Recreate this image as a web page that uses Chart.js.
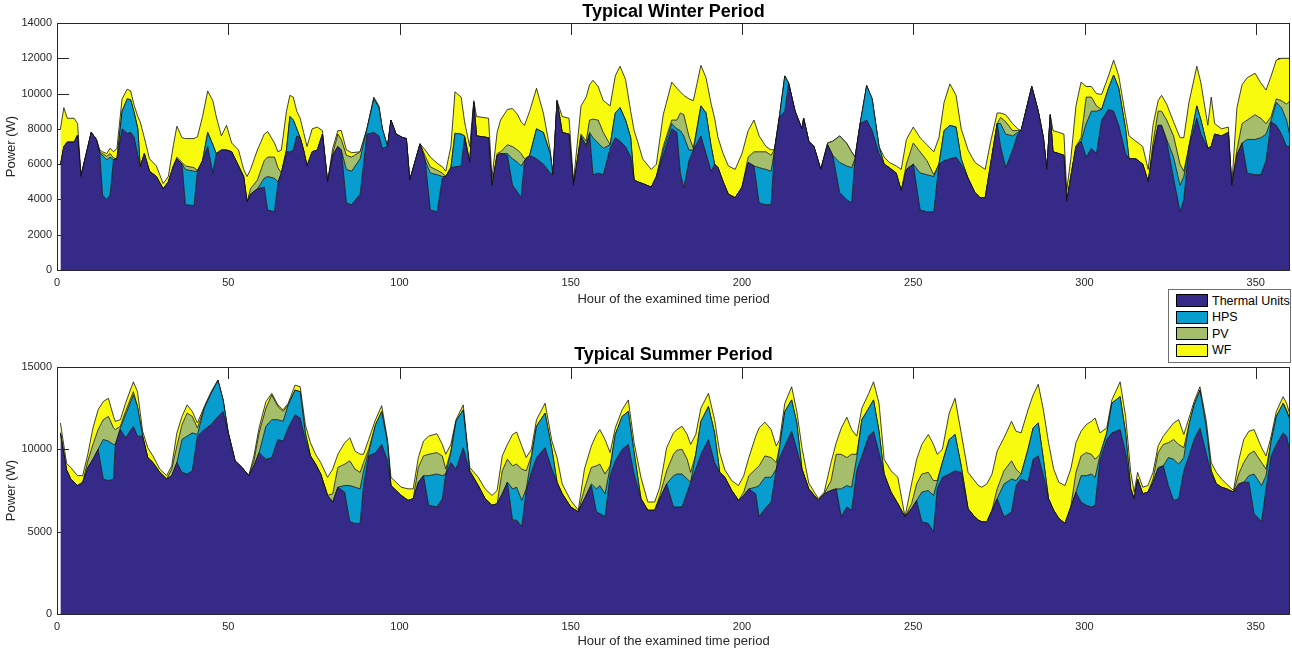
<!DOCTYPE html>
<html>
<head>
<meta charset="utf-8">
<script src="https://cdn.jsdelivr.net/npm/chart.js@4.4.1/dist/chart.umd.min.js"></script>
<style>
  body { margin: 0; background: #fff; width: 1292px; height: 652px; position: relative; overflow: hidden;
         font-family: "Liberation Sans", Arial, Helvetica, sans-serif; }
  canvas { position: absolute; left: 0; }
  #winter { top: 0; }
  #summer { top: 340px; }
  .legend { position: absolute; left: 1168px; top: 289px; width: 123px; height: 74px; box-sizing: border-box;
            border: 1px solid #6e6e6e; background: #fff; z-index: 5; }
  .legend .item { position: absolute; left: 7px; height: 13px; display: flex; align-items: center;
                  font-size: 12.5px; color: #000; white-space: nowrap; }
  .legend .sw { width: 30px; height: 11px; border: 1px solid #000; margin-right: 4px; }
</style>
</head>
<body>
<canvas id="winter" width="1292" height="310"></canvas>
<canvas id="summer" width="1292" height="312"></canvas>
<div class="legend" id="legend"></div>

<script>
// Generation mix per hour (W), typical winter period
const winterHours = [
  1,2,3,5,6,7,10,11.5,12.5,13.3,
  14.5,15.5,16.5,17.5,19,20.5,21.5,22.5,23.6,24.3,
  25.5,27,29,31,32.5,34,35,36.5,37.5,40,
  41,42.5,44,45.5,46.5,48,49.5,51,53,54.5,
  55.5,56.5,58.5,60.5,61.5,63.5,64.5,65.5,67,68,
  69,70,71,72,73,74.5,76,77.5,79,80.5,
  82,83,84.5,86,88.5,90.5,92.5,94,95,96.5,
  97.5,99,101,102,103,106,107.5,109,111,112.5,
  113.5,115,116.2,118,119,120.5,121.7,122.5,126,127,
  128.5,129.5,131.5,133,134.5,135.5,136.5,138,140,142,
  144,144.8,146,147.5,149.5,150.8,153,154.5,155.5,156.5,
  158,159.5,161.5,163,164.4,166,167.5,168.5,169.5,171,
  173.5,175,177,179.5,181,182,183,184.5,185.8,188,
  189.5,191,192,193,194.5,196,198,200,201.8,203.5,
  205,207,208.5,209.5,211,212.5,213.6,215.5,217.5,218,
  219.5,221,223,225,226.5,228.5,230.5,232,233,234.5,
  236.4,238,240,241.5,243,245,246.5,248,250,252,
  254,256,257.5,259,260.7,262.5,264,266,268,269.5,
  271,272.5,274.5,275.5,277,279,280.5,281.5,284.6,286.5,
  288,289,290,290.8,292.5,294,294.8,296,297.5,299,
  300.5,302,303.5,305,307,308.5,310,312,313,315,
  317,318.6,320,321.5,322.5,324,326,327.9,329,330.5,
  332.8,334,336,337,338,340,342,343,344.5,346,
  347.5,349.8,351.5,353,354.5,356,357.5,359,360
];
const winterThermal = [
  5950,7000,7250,7250,7650,5300,7800,7400,6600,4250,
  4000,4250,6250,6300,8000,7750,7800,7550,6500,5850,
  6600,5600,5300,4600,5000,5900,6300,6000,3700,3650,
  5600,6200,7000,5500,6600,6800,6800,6700,5900,5300,
  3850,4300,4600,4700,3400,3300,4900,5500,6700,6700,
  6800,7600,7500,6800,5900,6700,6800,7700,5000,6500,
  7000,6800,3800,3700,4300,7700,7800,7600,6900,7000,
  8500,7700,7500,7450,5100,7150,6200,3400,3300,5200,
  5300,5800,5850,5900,7500,6100,9500,7600,7500,4800,
  6500,6600,6500,4800,4400,4100,6200,6500,6300,6000,
  5500,5400,9600,7800,7700,4800,7500,7000,7700,5400,
  5500,5400,6900,7500,7300,7000,6400,5100,5000,4900,
  4700,5300,6500,8000,7800,5500,4650,6200,6800,7600,
  6600,5600,6000,5800,5000,4300,4100,4700,6100,5900,
  3800,3700,3700,6800,8700,9000,10600,9000,8000,8600,
  7300,7000,5700,7100,6500,4400,4000,3800,6300,8300,
  8500,7900,6600,6000,5800,5500,4500,5700,6000,3400,
  3300,3300,6000,6200,6300,6400,6000,5200,4400,4100,
  4100,5900,8300,7000,5800,6800,7700,7900,10400,9000,
  7500,5700,8800,6700,6600,6500,3900,5300,7000,7300,
  6400,6900,6600,8500,9100,9000,8200,6600,6300,6300,
  6000,5000,6800,8200,8200,7300,5200,3300,4000,7000,
  8600,7700,6900,7000,7700,7600,7800,4800,6500,7200,
  5500,5400,5400,6200,8400,8200,7700,7000,7000
];
const winterHps = [
  0,0,0,0,0,0,0,0,0,2250,
  2250,2150,0,0,1000,1950,1850,1400,1500,0,
  0,0,0,0,0,0,0,0,2000,1950,
  0,0,800,1600,0,0,0,0,0,0,
  0,0,0,500,1900,1900,100,0,100,2000,
  1700,400,0,0,0,0,0,0,0,0,
  0,0,1900,1900,2000,300,1900,1600,1100,0,
  0,0,0,0,0,0,0,2100,2100,100,
  0,0,1900,1800,100,0,0,0,0,0,
  0,0,100,1500,1700,1800,0,0,1700,1800,
  1100,0,0,0,0,0,100,100,100,2100,
  1700,1500,200,1400,1900,1500,1100,0,0,0,
  0,0,300,300,200,2400,2950,600,0,1700,
  2300,1400,0,0,0,0,0,0,0,0,
  2000,2000,1900,0,100,2000,0,0,0,0,
  0,0,0,0,0,1700,1900,2000,0,0,
  1950,1800,400,0,0,0,0,0,0,2100,
  2100,2000,0,1700,1900,1700,300,0,0,0,
  0,0,0,1300,1900,800,100,0,0,0,
  0,0,0,0,0,0,0,0,0,0,
  1900,2100,2400,600,1200,2050,2100,1400,0,0,
  0,0,0,0,0,100,1200,1500,1300,0,
  700,800,0,0,0,0,0,0,0,0,
  1900,2000,2100,1500,100,1300,1500,1500,600
];
const winterPv = [
  0,0,0,0,0,0,0,0,100,100,
  200,200,100,0,0,0,0,0,0,0,
  0,0,0,0,0,0,100,100,200,200,
  50,0,0,0,0,0,0,0,0,0,
  0,300,500,1000,1100,1200,800,0,0,0,
  0,0,0,0,0,0,0,0,0,100,
  700,600,800,800,400,0,0,0,0,0,
  0,0,0,0,0,0,250,350,250,200,
  0,0,0,0,0,0,0,0,0,0,
  100,100,500,700,700,700,100,0,0,0,
  0,0,0,0,0,0,100,200,700,1050,
  1300,900,0,0,0,0,0,0,0,0,
  0,0,200,200,500,1000,1200,800,100,0,
  0,0,0,0,0,0,0,0,300,800,
  900,1000,900,50,0,0,0,0,0,0,
  0,0,0,100,800,1500,1300,900,100,0,
  0,0,0,0,0,0,0,300,1200,1200,
  800,100,0,0,0,0,0,0,0,0,
  0,0,0,350,700,300,100,0,0,0,
  0,0,0,0,0,0,0,0,0,200,
  1500,800,300,0,0,0,0,0,0,0,
  0,0,400,800,800,1100,1200,1200,300,0,
  0,0,0,0,0,0,0,0,300,1100,
  1100,1400,1100,600,200,200,400,900,2000
];
const winterWf = [
  2050,2200,1350,1350,650,100,0,0,100,100,
  150,300,350,600,700,550,500,400,700,2550,
  900,700,600,300,300,1200,1750,1400,1550,1650,
  1900,2500,2350,2500,2100,800,1400,500,900,400,
  1450,1100,1700,1500,1450,800,900,1300,2200,1200,
  1300,1000,1100,1000,1100,1300,1300,200,0,300,
  200,500,300,250,0,0,100,100,0,0,
  0,0,0,0,0,0,350,550,400,350,
  300,1200,2350,2100,800,900,100,1100,1100,400,
  1200,1800,2000,2150,2000,1800,1900,2500,2300,1100,
  200,0,0,900,900,200,1600,2500,2000,2200,
  1900,1800,2200,2100,2350,2300,1500,2800,2300,1400,
  1000,700,1800,2150,1800,1200,1100,2100,2700,2300,
  2000,2400,2600,1700,1600,1600,1600,1900,1500,1800,
  900,300,300,0,0,0,0,0,0,0,
  0,0,0,0,0,0,0,0,0,0,
  0,0,0,400,300,400,1200,1400,900,800,
  900,1300,1500,1600,2350,1800,1700,1600,1700,1800,
  1600,1300,600,250,400,400,100,0,0,0,
  0,0,0,1200,1200,1200,600,1000,2300,3150,
  600,600,700,850,700,850,700,700,1300,1000,
  1000,700,1000,600,900,900,800,1500,1900,2500,
  2250,2100,1300,2800,600,400,300,0,2400,2200,
  2400,2350,2000,1900,2300,2200,2400,2600,2400
];

// Generation mix per hour (W), typical summer period
const summerHours = [
  1,2.8,4,6,7.5,9,10.5,12,13.5,15,
  16.5,17,18.5,20,22.3,23.5,25,26.5,28,30,
  32,33.5,35,36.5,38,39.5,41,43,45,47,
  48.5,50,52,54,56,57.5,59,61,62.7,64.5,
  66,67.5,69.5,71,72.5,74,75.5,77,79,80.5,
  82,84,85.5,87,88.5,89.5,91,93,94.8,96.5,
  97.5,99,100.5,102.5,104,105.5,107,108.5,110.9,112.5,
  113.5,115,116.5,118.6,120.5,123,125,127,128.5,130,
  131.5,133,134.2,135.7,137,138.5,140,142.5,144.5,146,
  147.5,150,152.2,154,156,157.5,158.5,160,161.5,163,
  165,166.8,168.5,170.5,172.5,174.5,176,178,180,181,
  182.5,184,185,186.5,188,190.2,192,193.5,195,197,
  199,200.5,202,204,205,206.7,208.5,210,211,212.5,
  214.5,216,217.5,219.5,222.3,224,226,227.5,229,230.6,
  232,233.5,235,237,238.4,240,241.5,243.5,245.5,247.6,
  249.5,251,252.5,254.4,255.9,257,258.5,260.5,262.2,264,
  266,267.5,269,270,271.5,273,274.5,276.5,278.7,280,
  281.5,283.5,285,286.5,288,289.5,291,292.5,294.3,296,
  297.5,299,300.5,302,303.1,304.5,306.5,308,310.4,312,
  313.5,314.5,315.5,317,318.5,320,321.5,323,324.5,326,
  327.5,329,330.5,332,333.7,335.5,337,338.5,340,341.5,
  343.5,345,346.5,348,349.5,351.7,353,354.5,356,358,
  359,360
];
const summerThermal = [
  11000,8750,8200,7800,8000,8900,9400,10000,8200,8100,
  8200,10200,11200,10700,11400,10800,10800,9500,9200,8600,
  8200,8400,9200,8600,8500,8700,10800,11200,11500,12000,
  12300,11000,9300,8900,8400,9000,9800,9400,9500,10600,
  10500,11300,12100,11900,10600,9600,9100,8500,7200,6800,
  7700,7400,5600,5500,5500,7800,9600,9800,10300,9300,
  7800,7500,7200,6900,7000,8000,8400,6600,6500,7000,
  8500,9200,8800,10100,8600,7800,7000,6600,6700,7300,
  8000,5700,5700,5300,7500,8600,9500,10100,8800,8000,
  7300,6500,6200,7000,7800,6200,6100,5900,8400,9300,
  10000,10300,8500,7000,6300,6300,7000,7900,6500,6500,
  6500,7400,8000,8800,9700,10600,9200,8600,8300,7500,
  6900,7200,7600,7300,5900,6400,6800,8800,9500,10200,
  11100,10000,8800,7600,6900,7300,7500,7600,5900,6500,
  6300,8700,9600,10800,11100,9800,8500,7400,6700,5900,
  6400,6900,5600,5500,5000,7600,8300,8500,8700,8600,
  6400,6000,5700,5600,5600,6300,7000,5900,6200,7800,
  8200,8000,9400,9600,8400,7000,6300,5800,5500,6500,
  7400,6800,6600,6500,6600,9300,10600,11000,11200,9800,
  7600,7000,8200,7300,7400,8000,8800,9000,7800,6900,
  7000,8700,9600,10600,11300,9800,8500,7900,7700,7600,
  7400,7900,8000,8000,6100,5600,7600,9600,10300,11000,
  10800,9800
];
const summerHps = [
  0,0,0,0,0,0,0,0,2400,2400,
  2100,100,100,1400,1900,1800,0,0,0,0,
  0,0,0,2000,2300,2300,100,1300,1900,2200,
  700,0,0,0,0,0,0,2000,2300,1200,
  1200,1400,1500,1600,400,0,0,0,0,0,
  0,400,2200,2200,2100,900,200,1700,2000,1100,
  0,0,0,0,0,0,0,1800,2000,1400,
  0,600,2900,2300,100,0,0,0,0,0,
  0,1900,2000,1600,100,900,1900,2100,1200,0,
  0,0,0,0,100,1400,1700,1400,500,1600,
  2000,2000,1300,0,0,0,0,0,1900,2000,
  2000,800,0,900,2000,2000,1800,0,0,0,
  0,0,0,400,1900,1900,1500,0,700,2100,
  1900,1600,0,0,0,0,0,0,1700,1300,
  1400,800,2200,1700,1900,1300,0,0,0,0,
  0,0,1800,2000,2200,400,900,2100,2200,400,
  0,0,0,0,0,0,0,2000,2000,300,
  300,2000,1900,2000,1000,0,0,0,0,0,
  0,1600,1800,2000,1700,300,400,1800,2000,1200,
  0,0,0,0,0,0,100,0,1700,2500,
  2100,800,1900,2100,2300,1600,200,0,0,0,
  0,0,0,400,2400,2200,800,900,1700,1800,
  1500,2000
];
const summerPv = [
  0,0,0,0,0,400,900,1200,1200,1500,
  1000,900,100,200,200,0,0,0,0,0,
  0,400,1000,900,1400,1000,400,0,0,0,
  0,0,0,0,0,300,1200,1100,1500,800,
  600,0,0,0,0,0,0,0,0,500,
  1200,1300,1500,1100,1000,500,200,0,0,0,
  0,0,0,0,0,900,1200,1300,1300,1200,
  300,100,0,0,0,0,0,0,0,1400,
  1400,1400,1400,1900,1100,100,0,0,0,0,
  0,0,0,600,1000,1400,1300,1200,100,0,
  0,0,0,0,0,0,200,800,1300,1450,
  1500,1200,600,0,0,0,0,0,0,0,
  0,200,800,1100,1200,1300,1200,400,0,0,
  0,0,0,0,0,0,600,2100,2100,1700,
  2000,200,0,0,0,0,0,0,0,0,
  300,1000,1100,1100,900,100,0,0,0,0,
  0,0,0,0,0,0,600,800,1100,700,
  0,0,0,0,0,0,0,0,0,0,
  1200,1200,1400,1200,1100,100,0,0,0,0,
  0,0,0,0,0,200,900,1300,900,1200,
  1200,600,0,0,0,0,0,0,0,0,
  0,600,1200,1300,1400,1400,400,0,0,0,
  100,0
];
const summerWf = [
  600,400,700,600,400,400,1000,1200,1100,1100,
  700,500,400,500,600,900,300,600,400,200,
  200,200,800,500,500,300,300,100,100,0,
  0,0,0,0,0,300,300,400,100,100,
  100,100,300,300,500,800,600,700,1100,1500,
  800,1300,1400,1100,1100,500,600,300,350,200,
  500,500,500,700,600,600,900,1100,1150,700,
  900,400,100,300,200,500,600,600,800,900,
  900,1900,1950,1400,800,400,400,600,500,1500,
  600,400,100,1200,1300,1900,2100,2100,800,400,
  400,700,600,1300,500,500,500,1400,1300,1250,
  1400,1500,1700,1200,800,800,800,1200,450,600,
  900,1000,1100,2000,2300,2050,1700,1000,400,500,
  800,700,1300,350,100,100,1100,700,1600,2450,
  1500,1100,700,900,1100,1700,900,1300,1600,0,
  1200,1500,1800,2300,2200,1600,800,1600,2200,2000,
  2200,2200,2100,2100,2300,2200,2300,2000,2400,2300,
  2500,2400,2000,2350,3000,3400,2500,2200,2300,2300,
  1800,1500,1700,2000,2500,1300,300,200,900,1000,
  1000,400,400,400,400,400,400,500,800,1000,
  1500,800,400,200,200,400,500,700,500,300,
  100,800,1400,1400,1300,900,800,300,300,400,
  400,300
];

const seriesNames = ['Thermal Units', 'HPS', 'PV', 'WF'];
const seriesColors = ['#352a87', '#079dcf', '#a5be6b', '#f9fb0e'];

const fontFamily = '"Liberation Sans", Arial, Helvetica, sans-serif';
Chart.defaults.font.family = fontFamily;
Chart.defaults.color = '#262626';

const pts = (hours, vals) => hours.map((h, i) => ({ x: h, y: vals[i] }));

// matlab-like axes: inward ticks on all four sides, dark box around the plot
const axisBox = {
  id: 'axisBox',
  beforeDatasetsDraw(chart) {
    const { ctx, chartArea: a, scales: { x, y } } = chart;
    const len = 12;
    ctx.save();
    ctx.strokeStyle = '#262626';
    ctx.lineWidth = 1;
    ctx.beginPath();
    x.ticks.forEach(t => {
      const px = Math.round(x.getPixelForValue(t.value)) + 0.5;
      ctx.moveTo(px, a.bottom); ctx.lineTo(px, a.bottom - len);
      ctx.moveTo(px, a.top); ctx.lineTo(px, a.top + len);
    });
    y.ticks.forEach(t => {
      const py = Math.round(y.getPixelForValue(t.value)) + 0.5;
      ctx.moveTo(a.left, py); ctx.lineTo(a.left + len, py);
      ctx.moveTo(a.right, py); ctx.lineTo(a.right - len, py);
    });
    ctx.stroke();
    ctx.restore();
  },
  afterDatasetsDraw(chart) {
    const { ctx, chartArea: a } = chart;
    ctx.save();
    ctx.strokeStyle = '#262626';
    ctx.lineWidth = 1;
    ctx.strokeRect(Math.round(a.left) + 0.5, Math.round(a.top) + 0.5,
                   Math.round(a.right - a.left) - 1, Math.round(a.bottom - a.top));
    ctx.restore();
  }
};

function buildChart(id, title, hours, values, yMax, yStep, titlePad, xAxisHeight) {
  const datasets = values.map((vals, i) => ({
    label: seriesNames[i],
    data: pts(hours, vals),
    backgroundColor: seriesColors[i],
    borderColor: '#111',
    borderWidth: 0.8,
    pointRadius: 0,
    tension: 0,
    fill: i === 0 ? 'origin' : '-1'
  }));

  return new Chart(document.getElementById(id), {
    type: 'line',
    data: { datasets },
    plugins: [axisBox],
    options: {
      responsive: false,
      animation: false,
      devicePixelRatio: 1,
      layout: { padding: { left: 0, right: 2, top: 0, bottom: 0 } },
      scales: {
        x: {
          type: 'linear',
          min: 0,
          max: 360,
          grid: { display: false, drawTicks: false },
          border: { display: false },
          ticks: { stepSize: 50, includeBounds: false, autoSkip: false, maxRotation: 0,
                   padding: 6, font: { size: 11 }, color: '#262626',
                   callback: v => String(v) },
          title: { display: true, text: 'Hour of the examined time period',
                   font: { size: 13 }, color: '#262626', padding: { top: 0, bottom: 3 } },
          afterFit(scale) { scale.height = xAxisHeight; }
        },
        y: {
          stacked: true,
          min: 0,
          max: yMax,
          grid: { display: false, drawTicks: false },
          border: { display: false },
          ticks: { stepSize: yStep, padding: 5, font: { size: 11 }, color: '#262626',
                   callback: v => String(v) },
          title: { display: true, text: 'Power (W)',
                   font: { size: 13 }, color: '#262626', padding: { top: 4, bottom: 0 } },
          afterFit(scale) { scale.width = 57; }
        }
      },
      plugins: {
        legend: { display: false },
        tooltip: { enabled: false },
        title: {
          display: true,
          text: title,
          fullSize: false,
          color: '#000',
          font: { size: 18, weight: 'bold' },
          padding: titlePad
        }
      }
    }
  });
}

buildChart('winter', 'Typical Winter Period', winterHours,
  [winterThermal, winterHps, winterPv, winterWf], 14000, 2000, { top: 1, bottom: 0.4 }, 40);
buildChart('summer', 'Typical Summer Period', summerHours,
  [summerThermal, summerHps, summerPv, summerWf], 15000, 5000, { top: 4.5, bottom: 0.9 }, 38);

// shared legend box between the two plots
const legend = document.getElementById('legend');
const itemTops = [4, 20.5, 37, 53.5];
seriesNames.forEach((name, i) => {
  const item = document.createElement('div');
  item.className = 'item';
  item.style.top = itemTops[i] + 'px';
  const sw = document.createElement('span');
  sw.className = 'sw';
  sw.style.background = seriesColors[i];
  item.appendChild(sw);
  item.appendChild(document.createTextNode(name));
  legend.appendChild(item);
});
</script>
</body>
</html>
